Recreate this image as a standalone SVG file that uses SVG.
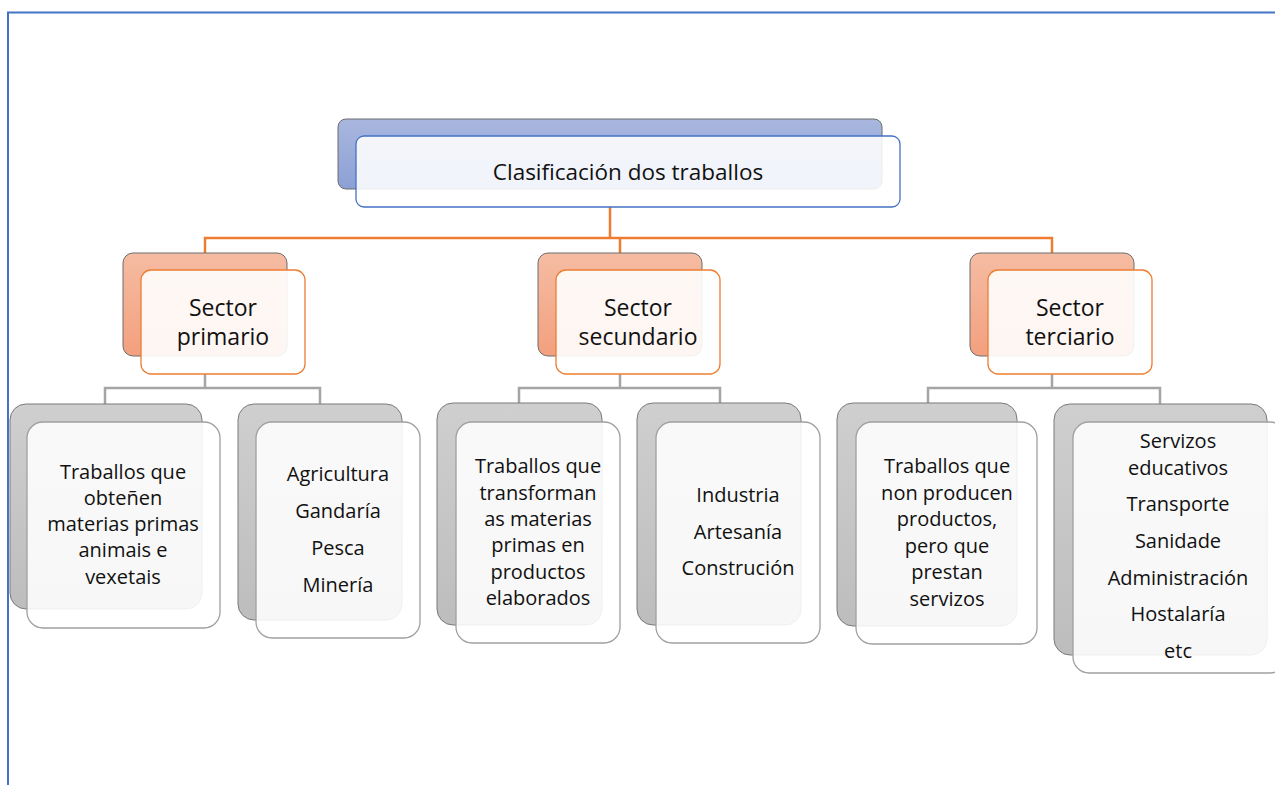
<svg xmlns="http://www.w3.org/2000/svg" width="1275" height="785" viewBox="0 0 1275 785">
<defs>
<linearGradient id="gBlue" x1="0" y1="0" x2="0" y2="1"><stop offset="0" stop-color="#A9B7DE"/><stop offset="1" stop-color="#8CA0D6"/></linearGradient>
<linearGradient id="gOr" x1="0" y1="0" x2="0" y2="1"><stop offset="0" stop-color="#F5BCA3"/><stop offset="1" stop-color="#F3A07E"/></linearGradient>
<linearGradient id="gGr" x1="0" y1="0" x2="0" y2="1"><stop offset="0" stop-color="#CFCFCF"/><stop offset="1" stop-color="#BDBDBD"/></linearGradient>
</defs>
<style>
.frame{stroke:#4472C4;stroke-width:2;fill:none}
.bb{fill:url(#gBlue);stroke:#6d6d6d;stroke-width:1}
.fb{fill:#fff;fill-opacity:0.88;stroke:#4472C4;stroke-width:1.3}
.bo{fill:url(#gOr);stroke:#6d6d6d;stroke-width:1}
.fo{fill:#fff;fill-opacity:0.9;stroke:#ED7D31;stroke-width:1.3}
.bg{fill:url(#gGr);stroke:#7a7a7a;stroke-width:1}
.fg{fill:#fff;fill-opacity:0.88;stroke:#a0a0a0;stroke-width:1.3}
.co{stroke:#ED7D31;stroke-width:2.5;fill:none}
.cg{stroke:#A5A5A5;stroke-width:2.5;fill:none}
text{font-family:"Open Sans","Liberation Sans",sans-serif;fill:#111;text-anchor:middle}
.t0{font-size:22.5px}
.t1{font-size:23px}
.t2{font-size:20px}
</style>
<path class="frame" d="M8,785 V12.5 H1275"/>
<g id="connectors">
<path class="co" d="M610,207 V238 M205,253 V238 H1052 V253 M620,238 V253"/>
<path class="cg" d="M205,374 V388 M105,404 V388 H320 V404"/>
<path class="cg" d="M620,374 V388 M519,404 V388 H720 V404"/>
<path class="cg" d="M1052,374 V388 M928,404 V388 H1160 V404"/>
</g>
<g id="root">
<rect class="bb" x="338" y="119" width="544" height="70" rx="8"/>
<rect class="fb" x="356" y="136" width="544" height="71" rx="8"/>
<text class="t0" x="628" y="180">Clasificación dos traballos</text>
</g>
<g id="primario">
<rect class="bo" x="123" y="253" width="164" height="103" rx="10"/>
<rect class="fo" x="141" y="270" width="164" height="104" rx="10"/>
<text class="t1" x="223" y="316">Sector</text>
<text class="t1" x="223" y="345">primario</text>
</g>
<g id="secundario">
<rect class="bo" x="538" y="253" width="164" height="103" rx="10"/>
<rect class="fo" x="556" y="270" width="164" height="104" rx="10"/>
<text class="t1" x="638" y="316">Sector</text>
<text class="t1" x="638" y="345">secundario</text>
</g>
<g id="terciario">
<rect class="bo" x="970" y="253" width="164" height="103" rx="10"/>
<rect class="fo" x="988" y="270" width="164" height="104" rx="10"/>
<text class="t1" x="1070" y="316">Sector</text>
<text class="t1" x="1070" y="345">terciario</text>
</g>
<g id="leaf1">
<rect class="bg" x="10" y="404" width="192" height="205" rx="16"/>
<rect class="fg" x="27" y="422" width="193" height="206" rx="16"/>
<text class="t2" x="123" y="479">Traballos que</text>
<text class="t2" x="123" y="505">obteñen</text>
<text class="t2" x="123" y="531">materias primas</text>
<text class="t2" x="123" y="557">animais e</text>
<text class="t2" x="123" y="584">vexetais</text>
</g>
<g id="leaf2">
<rect class="bg" x="238" y="404" width="164" height="216" rx="16"/>
<rect class="fg" x="256" y="422" width="164" height="216" rx="16"/>
<text class="t2" x="338" y="481">Agricultura</text>
<text class="t2" x="338" y="518">Gandaría</text>
<text class="t2" x="338" y="555">Pesca</text>
<text class="t2" x="338" y="592">Minería</text>
</g>
<g id="leaf3">
<rect class="bg" x="437" y="403" width="165" height="222" rx="16"/>
<rect class="fg" x="456" y="422" width="164" height="221" rx="16"/>
<text class="t2" x="538" y="473">Traballos que</text>
<text class="t2" x="538" y="500">transforman</text>
<text class="t2" x="538" y="526">as materias</text>
<text class="t2" x="538" y="552">primas en</text>
<text class="t2" x="538" y="579">productos</text>
<text class="t2" x="538" y="605">elaborados</text>
</g>
<g id="leaf4">
<rect class="bg" x="637" y="403" width="164" height="222" rx="16"/>
<rect class="fg" x="656" y="422" width="164" height="221" rx="16"/>
<text class="t2" x="738" y="502">Industria</text>
<text class="t2" x="738" y="539">Artesanía</text>
<text class="t2" x="738" y="575">Construción</text>
</g>
<g id="leaf5">
<rect class="bg" x="837" y="403" width="180" height="223" rx="16"/>
<rect class="fg" x="856" y="422" width="181" height="222" rx="16"/>
<text class="t2" x="947" y="473">Traballos que</text>
<text class="t2" x="947" y="500">non producen</text>
<text class="t2" x="947" y="526">productos,</text>
<text class="t2" x="947" y="553">pero que</text>
<text class="t2" x="947" y="579">prestan</text>
<text class="t2" x="947" y="606">servizos</text>
</g>
<g id="leaf6">
<rect class="bg" x="1054" y="404" width="213" height="251" rx="16"/>
<rect class="fg" x="1073" y="422" width="213" height="251" rx="16"/>
<text class="t2" x="1178" y="448">Servizos</text>
<text class="t2" x="1178" y="475">educativos</text>
<text class="t2" x="1178" y="511">Transporte</text>
<text class="t2" x="1178" y="548">Sanidade</text>
<text class="t2" x="1178" y="585">Administración</text>
<text class="t2" x="1178" y="621">Hostalaría</text>
<text class="t2" x="1178" y="658">etc</text>
</g>
</svg>
